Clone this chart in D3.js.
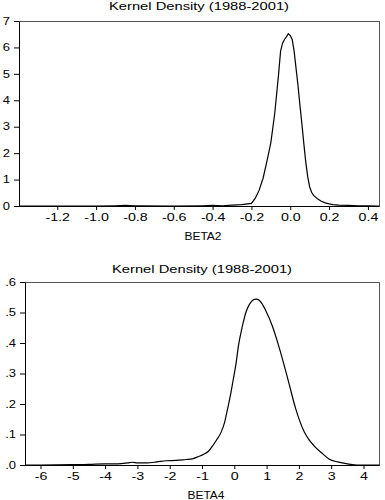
<!DOCTYPE html>
<html>
<head>
<meta charset="UTF-8">
<script src="https://cdn.jsdelivr.net/npm/d3@7"></script>
<style>
  body { margin: 0; background: #fff; }
  text { font-family: "Liberation Sans", Arial, sans-serif; fill: #000; }
</style>
</head>
<body>
<svg id="chart" width="385" height="500"></svg>
<script>
// BETA2 kernel density (top panel)
var beta2X = [-1.397, -1.0, -0.9, -0.85, -0.8, -0.6, -0.45, -0.4, -0.35, -0.3, -0.25, -0.2, -0.18, -0.16, -0.14,
  -0.12, -0.1, -0.08, -0.06, -0.05, -0.04, -0.03, -0.02, -0.01, 0.0, 0.01, 0.02, 0.03, 0.04, 0.05, 0.06,
  0.07, 0.08, 0.09, 0.1, 0.11, 0.12, 0.14, 0.16, 0.18, 0.2, 0.22, 0.25, 0.3, 0.35, 0.4, 0.457];
var beta2Y = [0, 0, 0.01, 0.02, 0.01, 0, 0.01, 0.02, 0.01, 0.03, 0.05, 0.1, 0.3, 0.6, 1.05,
  1.7, 2.4, 3.5, 5.0, 5.85, 6.15, 6.3, 6.4, 6.52, 6.45, 6.3, 5.85, 5.2, 4.55, 3.8, 3.1,
  2.35, 1.65, 1.1, 0.72, 0.52, 0.4, 0.27, 0.18, 0.12, 0.08, 0.05, 0.03, 0.02, 0.01, 0.01, 0];
var beta2XTicks = [-1.2, -1.0, -0.8, -0.6, -0.4, -0.2, 0.0, 0.2, 0.4];
var beta2YTicks = [0, 1, 2, 3, 4, 5, 6, 7];

// BETA4 kernel density (bottom panel)
var beta4X = [-6.48, -6, -5, -4.5, -4, -3.6, -3.3, -3.15, -3.0, -2.7, -2.4, -2.1, -1.8, -1.5, -1.3, -1.1,
  -0.93, -0.8, -0.67, -0.55, -0.41, -0.3, -0.23, -0.1, -0.03, 0.05, 0.13, 0.25, 0.36, 0.46, 0.55,
  0.62, 0.69, 0.76, 0.85, 0.98, 1.18, 1.39, 1.65, 1.9, 2.16, 2.3, 2.47, 2.7, 2.93, 3.2, 3.55, 3.8, 4.48];
var beta4Y = [0, 0, 0.001, 0.002, 0.004, 0.004, 0.007, 0.009, 0.007, 0.007, 0.01, 0.014, 0.015, 0.018, 0.02, 0.028,
  0.036, 0.045, 0.063, 0.082, 0.107, 0.14, 0.173, 0.24, 0.282, 0.33, 0.392, 0.455, 0.501, 0.525, 0.538,
  0.543, 0.544, 0.541, 0.53, 0.505, 0.455, 0.385, 0.285, 0.185, 0.11, 0.085, 0.063, 0.04, 0.02, 0.01, 0.003, 0, 0];
var beta4XTicks = [-6, -5, -4, -3, -2, -1, 0, 1, 2, 3, 4];
var beta4YTicks = [0, 0.1, 0.2, 0.3, 0.4, 0.5, 0.6];

var titleText = "Kernel Density (1988-2001)";

var svg = d3.select("#chart");
var sx = 1.42, sy = 1.3; // the picture is stretched sideways
var fs = 10;

function panel(opt) {
  var x = d3.scaleLinear().domain(opt.xDomain).range([opt.left, opt.right]);
  var y = d3.scaleLinear().domain(opt.yDomain).range([opt.bottom, opt.top]);
  var g = svg.append("g");

  g.append("rect")
    .attr("x", opt.left + 0.5).attr("y", opt.top + 0.5)
    .attr("width", opt.right - opt.left).attr("height", opt.bottom - opt.top)
    .attr("fill", "none").attr("stroke", "#555").attr("stroke-width", 1);

  var data = opt.xs.map(function (d, i) { return [d, opt.ys[i]]; });
  g.append("path")
    .datum(data)
    .attr("fill", "none")
    .attr("stroke", "#000")
    .attr("stroke-width", 1.2)
    .attr("d", d3.line().x(function (d) { return x(d[0]); }).y(function (d) { return y(d[1]); }).curve(opt.curve));

  var xa = g.append("g").attr("transform", "translate(0," + opt.bottom + ")")
    .call(d3.axisBottom(x).tickValues(opt.xTicks).tickFormat(opt.xFormat).tickSize(4).tickSizeOuter(0).tickPadding(4));
  xa.selectAll("text").attr("font-size", fs).attr("font-family", null).attr("transform", "scale(" + sx + ",1)");

  var ya = g.append("g").attr("transform", "translate(" + opt.left + ",0)")
    .call(d3.axisLeft(y).tickValues(opt.yTicks).tickFormat(opt.yFormat).tickSize(5).tickSizeOuter(0).tickPadding(4));
  ya.selectAll("text").attr("font-size", fs).attr("font-family", null)
    .attr("x", -9 / sy).attr("transform", "scale(" + sy + ",1)");
  g.selectAll(".domain").attr("stroke", "#000");
  g.selectAll(".tick line").attr("stroke", "#000");
  g.selectAll(".tick text").attr("fill", "#000");

  g.append("text")
    .attr("x", (opt.left + opt.right) / 2 - 90).attr("y", opt.titleY)
    .attr("font-size", fs).attr("textLength", 180).attr("lengthAdjust", "spacingAndGlyphs")
    .text(titleText);

  g.append("text")
    .attr("x", (opt.left + opt.right) / 2 + 4 - 18.5).attr("y", opt.labelY)
    .attr("font-size", fs).attr("textLength", 37).attr("lengthAdjust", "spacingAndGlyphs")
    .text(opt.label);
}

panel({
  xs: beta2X, ys: beta2Y, xTicks: beta2XTicks, yTicks: beta2YTicks,
  xDomain: [-1.397, 0.457], yDomain: [0, 7],
  left: 19, right: 379, top: 21, bottom: 206,
  titleY: 10, labelY: 240, label: "BETA2",
  curve: d3.curveLinear,
  xFormat: function (d) { return d.toFixed(1); },
  yFormat: function (d) { return String(d); }
});

panel({
  xs: beta4X, ys: beta4Y, xTicks: beta4XTicks, yTicks: beta4YTicks,
  xDomain: [-6.48, 4.48], yDomain: [0, 0.6],
  left: 25, right: 379, top: 282, bottom: 465,
  titleY: 272.5, labelY: 499, label: "BETA4",
  curve: d3.curveMonotoneX,
  xFormat: function (d) { return String(d); },
  yFormat: function (d) { return d.toFixed(1).replace("0.", "."); }
});
</script>
</body>
</html>
